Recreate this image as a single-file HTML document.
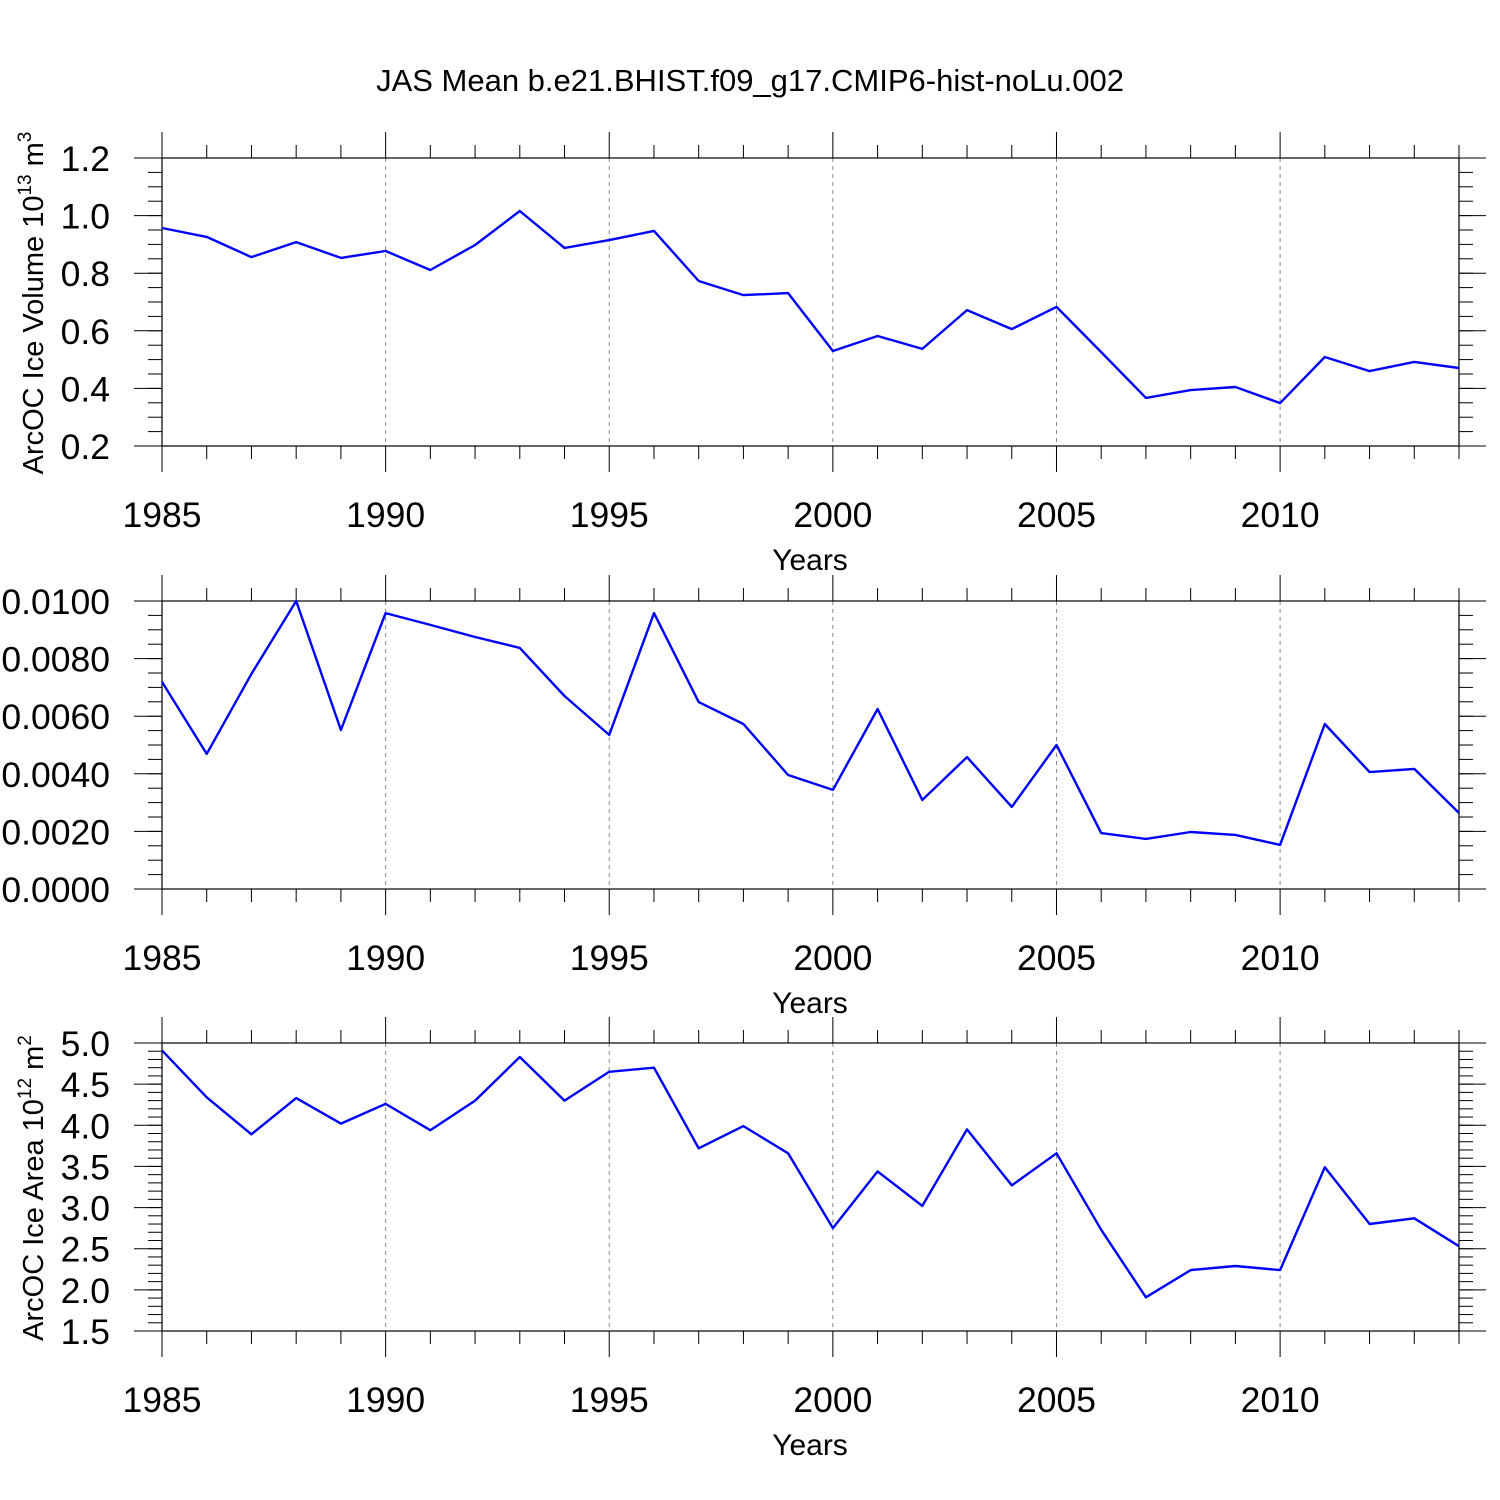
<!DOCTYPE html>
<html><head><meta charset="utf-8"><style>
html,body{margin:0;padding:0;background:#fff;}
svg{display:block;font-family:"Liberation Sans",Helvetica,Arial,sans-serif;}
</style></head><body>
<svg id="chart" width="1500" height="1500" viewBox="0 0 1500 1500" xmlns="http://www.w3.org/2000/svg">
<rect width="1500" height="1500" fill="#fff"/>
<text x="750" y="91" font-size="31" text-anchor="middle">JAS Mean b.e21.BHIST.f09_g17.CMIP6-hist-noLu.002</text>
</svg>
<script>
const years = [1985,1986,1987,1988,1989,1990,1991,1992,1993,1994,1995,1996,1997,1998,1999,2000,2001,2002,2003,2004,2005,2006,2007,2008,2009,2010,2011,2012,2013,2014];
const volumeValues = [0.957,0.926,0.856,0.908,0.853,0.877,0.811,0.898,1.016,0.888,0.915,0.947,0.773,0.724,0.731,0.530,0.582,0.537,0.672,0.606,0.683,0.526,0.367,0.394,0.405,0.349,0.509,0.460,0.492,0.471];
const middleValues = [0.00719,0.00469,0.00747,0.0100,0.00552,0.00958,0.00917,0.00875,0.00837,0.00670,0.00535,0.00958,0.00649,0.00573,0.00396,0.00344,0.00625,0.00309,0.00458,0.00285,0.00500,0.00194,0.00174,0.00198,0.00188,0.00153,0.00573,0.00406,0.00417,0.00264];
const areaValues = [4.91,4.34,3.89,4.33,4.02,4.26,3.94,4.30,4.83,4.30,4.65,4.70,3.72,3.99,3.66,2.75,3.44,3.02,3.95,3.27,3.66,2.73,1.91,2.24,2.29,2.24,3.49,2.80,2.87,2.53];
const xTickLabels = ["1985","1990","1995","2000","2005","2010"];
const volumeTicks = ["0.2","0.4","0.6","0.8","1.0","1.2"];
const middleTicks = ["0.0000","0.0020","0.0040","0.0060","0.0080","0.0100"];
const areaTicks = ["1.5","2.0","2.5","3.0","3.5","4.0","4.5","5.0"];

const NS="http://www.w3.org/2000/svg";
const svg=document.getElementById('chart');
function mk(tag,attrs,parent){const e=document.createElementNS(NS,tag);for(const k in attrs)e.setAttribute(k,attrs[k]);(parent||svg).appendChild(e);return e;}
const X0=162,X1=1459,XMIN=1985,XMAX=2014;
function xs(v){return X0+(v-XMIN)/(XMAX-XMIN)*(X1-X0);}

function panel(name,top,ymin,ymax,minorStep,ticks,values,title,supText,unit){
  const bot=top+288;
  const g=mk('g',{});
  
  
  const ys=v=>bot-(v-ymin)/(ymax-ymin)*288;
  for(let yr=1990;yr<=2010;yr+=5){
    const l=mk('line',{x1:xs(yr),x2:xs(yr),y1:top,y2:bot,stroke:'#888','stroke-width':1,'stroke-dasharray':'4,4'},g);
    
    
  }
  for(let yr=XMIN;yr<=XMAX;yr++){
    const major=(yr%5===0);
    const len=major?26:13;
    mk('line',{x1:xs(yr),x2:xs(yr),y1:top-len,y2:top,stroke:'#000','stroke-width':1},g);
    mk('line',{x1:xs(yr),x2:xs(yr),y1:bot,y2:bot+len,stroke:'#000','stroke-width':1},g);
  }
  xTickLabels.forEach(t=>{
    const tx=mk('text',{x:xs(+t),y:bot+81,'font-size':35.5,'text-anchor':'middle'},g);
    tx.textContent=t;
    
    
  });
  const xt=mk('text',{x:810,y:bot+124,'font-size':30,'text-anchor':'middle'},g);
  xt.textContent='Years';
  
  
  const nMinor=Math.round((ymax-ymin)/minorStep);
  for(let i=0;i<=nMinor;i++){
    const y=ys(ymin+i*minorStep);
    mk('line',{x1:X0-14,x2:X0,y1:y,y2:y,stroke:'#000','stroke-width':1},g);
    mk('line',{x1:X1,x2:X1+14,y1:y,y2:y,stroke:'#000','stroke-width':1},g);
  }
  ticks.forEach(t=>{
    const y=ys(+t);
    mk('line',{x1:X0-28,x2:X0,y1:y,y2:y,stroke:'#000','stroke-width':1},g);
    mk('line',{x1:X1,x2:X1+27,y1:y,y2:y,stroke:'#000','stroke-width':1},g);
    const tx=mk('text',{x:110,y:y+13,'font-size':35.5,'text-anchor':'end'},g);
    tx.textContent=t;
    
    
  });
  const fr=mk('rect',{x:X0,y:top,width:X1-X0,height:288,fill:'none',stroke:'#000','stroke-width':1.2},g);
  
  
  const pts=values.map((v,i)=>xs(years[i]).toFixed(1)+','+ys(v).toFixed(1)).join(' ');
  const pl=mk('polyline',{points:pts,fill:'none',stroke:'#0000ff','stroke-width':2.4,'stroke-linejoin':'round'},g);
  
  
  if(title){
    const cy=top+145;
    const t=mk('text',{x:0,y:0,'font-size':29,'text-anchor':'middle',transform:`translate(43,${cy}) rotate(-90)`},g);
    
    
    const a=mk('tspan',{},t);a.textContent=title;
    const b=mk('tspan',{dy:-12,'font-size':19},t);b.textContent=supText;
    const c=mk('tspan',{dy:12},t);c.textContent=' m';
    const d=mk('tspan',{dy:-12,'font-size':19},t);d.textContent=unit;
  }
}
panel('volume',158,0.2,1.2,0.05,volumeTicks,volumeValues,'ArcOC Ice Volume 10','13','3');
panel('middle',601,0,0.01,0.0005,middleTicks,middleValues,null);
panel('area',1043,1.5,5.0,0.1,areaTicks,areaValues,'ArcOC Ice Area 10','12','2');
</script>
</body></html>
